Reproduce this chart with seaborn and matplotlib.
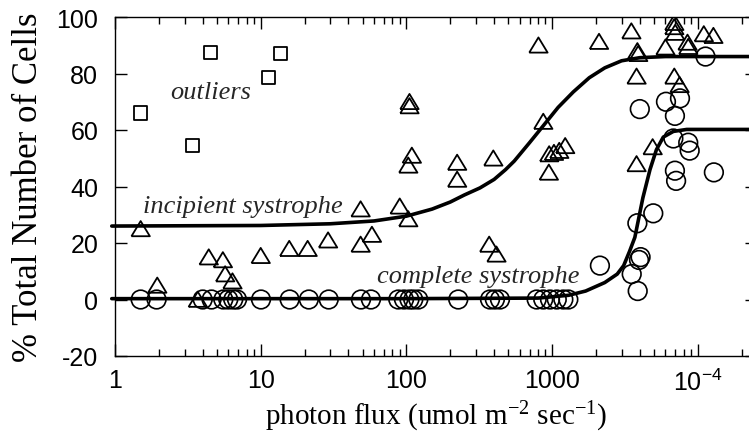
import matplotlib
matplotlib.use("Agg")
import matplotlib.pyplot as plt
from matplotlib.ticker import FixedLocator, LogLocator, NullFormatter
import pandas as pd
import seaborn as sns

# ---- values ----
square_x = [1.5, 3.4, 4.5, 11.3, 13.7]
square_y = [66, 54.5, 87.5, 78.5, 87]

triangle_x = [1.5, 1.95, 3.7, 4.4, 5.5, 5.7, 6.4, 10, 15.7, 21, 29, 48.5, 48.5, 58,
              90, 103, 105, 105, 109, 103, 223, 223, 370, 415, 395, 806, 870, 950,
              955, 1030, 1120, 1230, 2100, 3500, 3850, 3900, 3800, 3800, 4900, 6900,
              6900, 7000, 6000, 8600, 8500, 11000, 12800, 6900, 7500]
triangle_y = [25, 5, 0, 15, 14, 9, 6.5, 15.5, 18, 18, 21, 32, 19.5, 23,
              33, 28.5, 70, 68.5, 51, 47.5, 48.5, 42.5, 19.5, 16, 50, 90, 63, 45,
              51.5, 52, 52.7, 54.4, 91.3, 95, 88, 87, 79, 48, 54, 98,
              96.5, 94.5, 89.3, 89.5, 91, 94, 93.4, 79, 76]

circle_x = [1.5, 1.93, 4.0, 4.6, 5.54, 5.99, 6.48, 6.88, 10.05, 15.8, 21.4, 29.3,
            48.8, 57.1, 88, 96.3, 105, 111.5, 120.7, 227, 375, 405, 439, 784, 870,
            968, 1077, 1195, 1293,
            2130, 3520, 3870, 3950, 4050, 3850, 4950, 6970, 7100, 12900, 6800,
            8600, 8800, 4000, 6050, 7550, 6970, 11300]
circle_y = [0] * 29 + [12, 9, 3, 14, 15, 27, 30.5, 45.6, 42, 45, 57,
                       55.5, 52.7, 67.4, 70, 71.2, 65, 86]

incipient_x = [0.95, 10, 30, 60, 100, 150, 200, 250, 320, 400, 480, 550, 700, 870,
               1100, 1400, 1800, 2300, 3000, 4000, 6000, 30000]
incipient_y = [26, 26.2, 26.8, 27.8, 29.5, 32, 34.5, 37, 39.5, 42.5, 46, 49, 55.5,
               61.5, 68, 73.5, 78.5, 82, 84.5, 85.6, 86, 86]

complete_x = [0.95, 100, 800, 1300, 1700, 2300, 2800, 3100, 3400, 3700, 4200, 4700,
              5200, 5800, 6800, 8400, 30000]
complete_y = [0.3, 0.3, 0.5, 1.5, 3, 6, 9, 12, 17, 22, 36, 46, 53, 57.5, 59.5,
              60.2, 60.2]

x_ticks = [1, 10, 100, 1000, 10000]
x_tick_labels = ["1", "10", "100", "1000", r"$\mathregular{10^{-4}}$"]
y_ticks = [-20, 0, 20, 40, 60, 80, 100]

sns.set_theme(style="ticks")
plt.rcParams["font.family"] = ["Liberation Sans", "DejaVu Sans"]
plt.rcParams["axes.linewidth"] = 1.0
plt.rcParams["axes.unicode_minus"] = False

fig = plt.figure(figsize=(7.49, 4.39), dpi=100)
ax = fig.add_axes([115 / 749, 1 - 357 / 439, (757 - 115) / 749, (357 - 18) / 439])

serif = ["Liberation Serif", "DejaVu Serif"]

for cx, cy in [(incipient_x, incipient_y), (complete_x, complete_y)]:
    sns.lineplot(x=cx, y=cy, ax=ax, color="black", linewidth=2.6,
                 sort=False, estimator=None, clip_on=False, zorder=2)

tri = [(-1, -0.8), (1, -0.8), (0, 0.85), (-1, -0.8)]
sns.scatterplot(x=triangle_x, y=triangle_y, ax=ax, marker=tri, s=175,
                facecolor="none", edgecolor="black", linewidth=1.3, zorder=3)
sns.scatterplot(x=circle_x, y=circle_y, ax=ax, marker="o", s=180,
                facecolor="none", edgecolor="black", linewidth=1.2, zorder=3)
sns.scatterplot(x=square_x, y=square_y, ax=ax, marker="s", s=90,
                facecolor="none", edgecolor="black", linewidth=1.3, zorder=3)

ax.set_xscale("log")
ax.set_xlim(1, 25500)
ax.set_ylim(-20, 100)
ax.xaxis.set_major_locator(FixedLocator(x_ticks))
ax.set_xticklabels(x_tick_labels)
ax.xaxis.set_minor_locator(LogLocator(base=10, subs=range(2, 10), numticks=20))
ax.xaxis.set_minor_formatter(NullFormatter())
ax.set_yticks(y_ticks)

ax.tick_params(which="both", direction="in", top=True, right=True,
               width=1.0, color="black", labelcolor="black")
ax.tick_params(which="major", length=8.4, labelsize=18)
ax.tick_params(axis="y", which="major", pad=12)
ax.tick_params(axis="x", which="major", pad=9)
ax.tick_params(which="minor", length=4.8)
for sp in ax.spines.values():
    sp.set_color("black")

ax.set_xlabel(r"photon flux (umol m$\mathregular{^{-2}}$ sec$\mathregular{^{-1}}$)",
              family=serif, fontsize=21, labelpad=3, color="black")
ax.set_ylabel("% Total Number of Cells", family=serif, fontsize=25,
              labelpad=8, color="black")

ax.text(2.38, 71.3, "outliers", family=serif, style="italic", fontsize=19)
ax.text(1.556, 31.0, "incipient systrophe", family=serif, style="italic", fontsize=19)
ax.text(62.9, 6.3, "complete systrophe", family=serif, style="italic", fontsize=19)

fig.savefig("out.png", dpi=100)
